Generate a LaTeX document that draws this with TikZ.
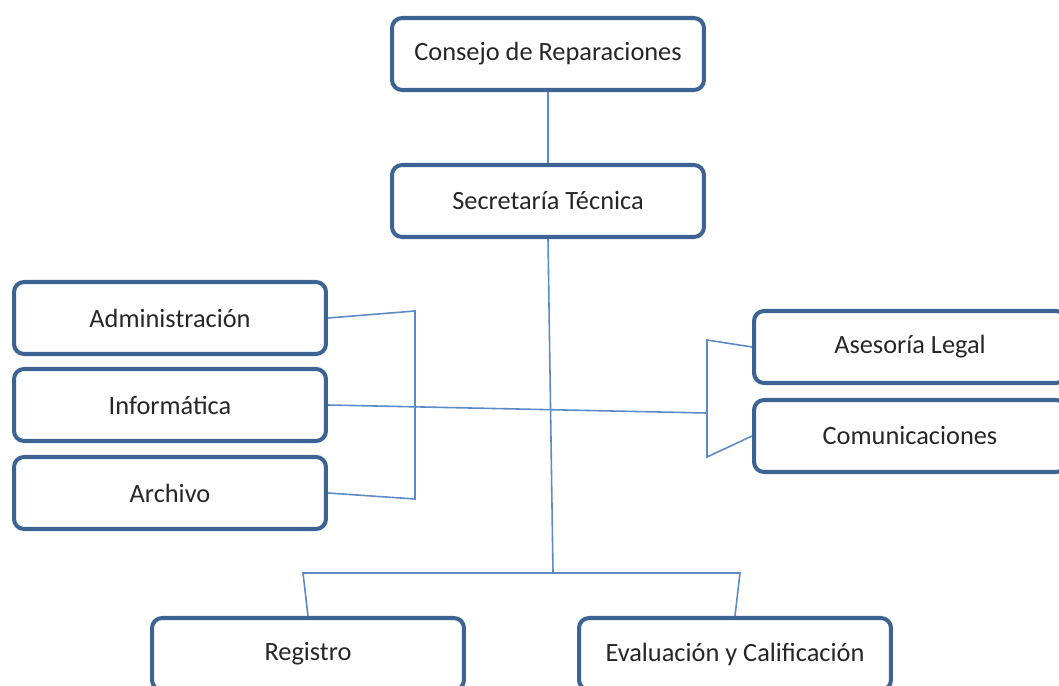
\documentclass[tikz,border=0pt]{standalone}
\usepackage{fontspec}
\setmainfont{Carlito}
\definecolor{borde}{HTML}{3D6392}
\definecolor{enlace}{HTML}{5B8AC6}
\definecolor{texto}{HTML}{262626}
\tikzset{
  unidad/.style={draw=borde, line width=2.3pt, rounded corners=0.2cm, fill=white,
    minimum width=6.24cm, minimum height=1.44cm, inner sep=0pt,
    text=texto, font=\fontsize{15}{18}\selectfont},
  enlace/.style={draw=enlace, line width=0.9pt}
}
\begin{document}
\begin{tikzpicture}[x=0.02cm, y=-0.02cm]
  \clip (0, 0) rectangle (1059, 686);

  % direccion
  \node[unidad] (consejo) at (548, 54) {Consejo de Reparaciones};
  \node[unidad] (secretaria) at (548, 201) {Secretaría Técnica};

  % unidades de apoyo
  \node[unidad] (administracion) at (170, 318) {Administración};
  \node[unidad] (informatica) at (170, 405) {Informática};
  \node[unidad] (archivo) at (170, 493) {Archivo};
  \node[unidad] (asesoria) at (910, 347) {Asesoría Legal};
  \node[unidad] (comunicaciones) at (910, 436) {Comunicaciones};

  % unidades de linea
  \node[unidad] (registro) at (308, 654) {Registro};
  \node[unidad] (evaluacion) at (735, 654) {Evaluación y Calificación};

  \coordinate (tronco) at (553, 573);
  \coordinate (busL) at (303, 573);
  \coordinate (busR) at (740, 573);
  \coordinate (izqA) at (415, 311);
  \coordinate (izqB) at (415, 499);
  \coordinate (derA) at (707, 340);
  \coordinate (derB) at (707, 457);
  \coordinate (derM) at (707, 413);

  \begin{scope}[on background layer/.try]
    \draw[enlace] (consejo) -- (secretaria);
    \draw[enlace] (secretaria.south) -- (tronco);
    \draw[enlace] (registro.north) -- (busL) -- (busR) -- (evaluacion.north);
    \draw[enlace] (administracion.east) -- (izqA) -- (izqB) -- (archivo.east);
    \draw[enlace] (asesoria.west) -- (derA) -- (derB) -- (comunicaciones.west);
    \draw[enlace] (informatica.east) -- (derM);
  \end{scope}
\end{tikzpicture}
\end{document}
